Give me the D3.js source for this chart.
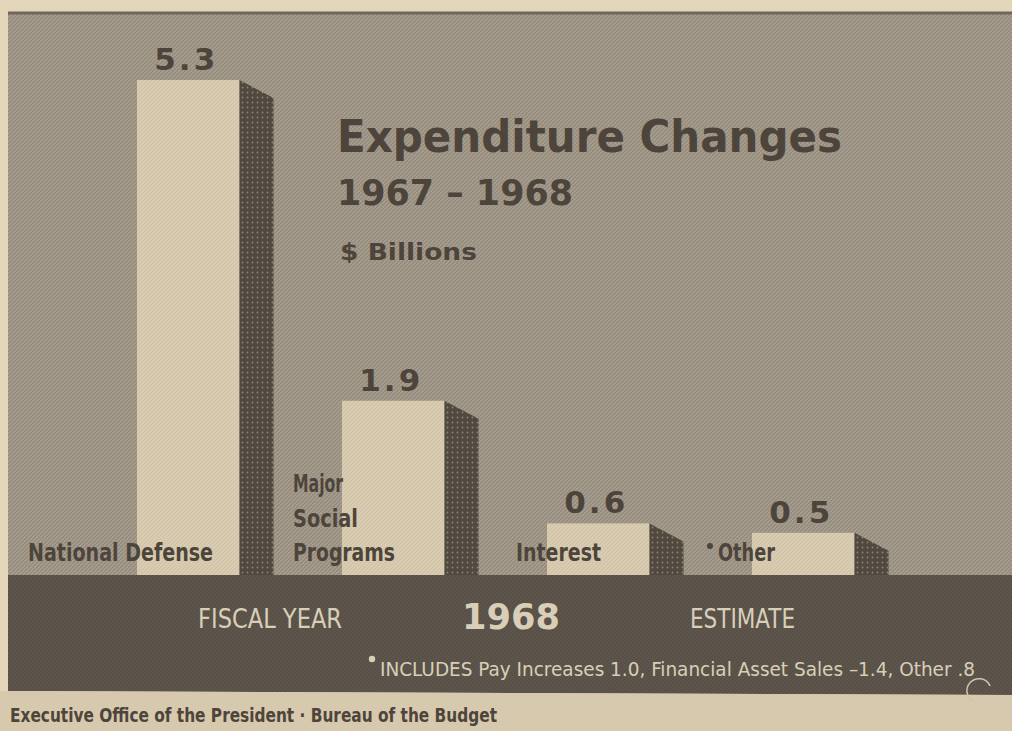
<!DOCTYPE html>
<html>
<head>
<meta charset="utf-8">
<script src="https://cdn.jsdelivr.net/npm/d3@7"></script>
<style>
  html, body { margin: 0; padding: 0; background: #e3d6bb; }
  svg { display: block; }
</style>
</head>
<body>
<svg id="chart" width="1012" height="731"></svg>
<script>
// ---- data ----
const categories = ["National Defense", "Major Social Programs", "Interest", "Other"];
const values = [5.3, 1.9, 0.6, 0.5];
const valueLabels = ["5.3", "1.9", "0.6", "0.5"];
const categoryLabelLines = [["National Defense"], ["Major", "Social", "Programs"], ["Interest"], ["Other"]];
const footnoteMarks = [false, false, false, true];
const titleLines = ["Expenditure Changes", "1967 \u2013 1968", "$ Billions"];
const bandTexts = ["FISCAL YEAR", "1968", "ESTIMATE"];
const footnoteText = "INCLUDES Pay Increases 1.0, Financial Asset Sales \u20131.4, Other .8";
const sourceText = "Executive Office of the President  \u00b7  Bureau of the Budget";

// ---- layout ----
const W = 1012, H = 731;
const baseY = 577;
const sideW = 34, sideDrop = 18;
const labelOffsets = [-109, -49, -31, -34];
const labelWidths = [[185], [50, 65, 102], [85], [57]];

const svg = d3.select("#chart");
const defs = svg.append("defs");

// newsprint texture for background
const tex = defs.append("pattern").attr("id", "tex").attr("patternUnits", "userSpaceOnUse")
  .attr("width", 4).attr("height", 4);
tex.append("rect").attr("width", 4).attr("height", 4).attr("fill", "#a69c8d");
tex.append("path").attr("d", "M0,4 L4,0").attr("stroke", "#8f8678").attr("stroke-width", 1.1);

// crosshatch for side faces
const hatch = defs.append("pattern").attr("id", "hatch").attr("patternUnits", "userSpaceOnUse")
  .attr("width", 5).attr("height", 5);
hatch.append("rect").attr("width", 5).attr("height", 5).attr("fill", "#514940");
hatch.append("circle").attr("cx", 2.5).attr("cy", 2.5).attr("r", 0.9).attr("fill", "#8d8373");

// dark band texture
const bandTex = defs.append("pattern").attr("id", "bandTex").attr("patternUnits", "userSpaceOnUse")
  .attr("width", 4).attr("height", 4);
bandTex.append("rect").attr("width", 4).attr("height", 4).attr("fill", "#5d554b");
bandTex.append("path").attr("d", "M0,4 L4,0").attr("stroke", "#544d44").attr("stroke-width", 1);

// front face texture
const frontTex = defs.append("pattern").attr("id", "frontTex").attr("patternUnits", "userSpaceOnUse")
  .attr("width", 4).attr("height", 4);
frontTex.append("rect").attr("width", 4).attr("height", 4).attr("fill", "#d8cbb0");
frontTex.append("path").attr("d", "M0,4 L4,0").attr("stroke", "#cdbfa4").attr("stroke-width", 0.9);

// outer paper
svg.append("rect").attr("width", W).attr("height", H).attr("fill", "#e3d6bb");
// panel
svg.append("rect").attr("x", 8).attr("y", 12).attr("width", W - 8).attr("height", 690 - 12).attr("fill", "url(#tex)");
svg.append("line").attr("x1", 8).attr("x2", W).attr("y1", 13).attr("y2", 13)
  .attr("stroke", "#6f675b").attr("stroke-width", 3);

// scales
const x = d3.scaleBand().domain(categories).range([75.5, 916]).paddingInner(0.5).paddingOuter(0.3);
const y = d3.scaleLinear().domain([0, 5.3]).range([580, 80]);

const dark = "#4d453b";
const narrow = "'Liberation Sans Narrow','DejaVu Sans Condensed','DejaVu Sans',sans-serif";

// bars
const bars = svg.append("g").selectAll("g").data(categories).join("g");
bars.append("rect")
  .attr("x", d => x(d)).attr("y", (d, i) => y(values[i]))
  .attr("width", x.bandwidth()).attr("height", (d, i) => baseY + 10 - y(values[i]))
  .attr("fill", "url(#frontTex)");
bars.append("path")
  .attr("d", (d, i) => {
    const x1 = x(d) + x.bandwidth(), yt = y(values[i]);
    return `M${x1},${yt} L${x1 + sideW},${yt + sideDrop} L${x1 + sideW},${baseY + 10} L${x1},${baseY + 10} Z`;
  })
  .attr("fill", "url(#hatch)");

// value labels
bars.append("text")
  .attr("x", d => x(d) + x.bandwidth() / 2 - 2)
  .attr("y", (d, i) => y(values[i]) - 10)
  .attr("text-anchor", "middle")
  .attr("font-family", "'DejaVu Sans',sans-serif").attr("font-weight", "bold")
  .attr("font-size", 31).attr("fill", dark)
  .attr("letter-spacing", 3)
  .text((d, i) => valueLabels[i]);

// category labels
bars.each(function (d, i) {
  const g = d3.select(this);
  const lines = categoryLabelLines[i];
  const lx = x(d) + labelOffsets[i];
  lines.forEach((ln, j) => {
    g.append("text")
      .attr("x", lx).attr("y", 561 - (lines.length - 1 - j) * 34.5)
      .attr("font-family", narrow).attr("font-weight", "bold")
      .attr("font-size", 25).attr("fill", dark)
      .attr("textLength", labelWidths[i][j]).attr("lengthAdjust", "spacingAndGlyphs")
      .text(ln);
  });
  if (footnoteMarks[i]) {
    g.append("circle").attr("cx", lx - 8).attr("cy", 546).attr("r", 3).attr("fill", dark);
  }
});

// title
svg.append("text").attr("x", 337).attr("y", 152)
  .attr("font-family", "'DejaVu Sans',sans-serif").attr("font-weight", "bold")
  .attr("font-size", 45).attr("fill", dark)
  .attr("textLength", 505).attr("lengthAdjust", "spacingAndGlyphs").text(titleLines[0]);
svg.append("text").attr("x", 337).attr("y", 205)
  .attr("font-family", "'DejaVu Sans',sans-serif").attr("font-weight", "bold")
  .attr("font-size", 35).attr("fill", dark)
  .attr("textLength", 236).attr("lengthAdjust", "spacingAndGlyphs").text(titleLines[1]);
svg.append("text").attr("x", 340).attr("y", 260)
  .attr("font-family", "'DejaVu Sans',sans-serif").attr("font-weight", "bold")
  .attr("font-size", 23).attr("fill", dark)
  .attr("textLength", 137).attr("lengthAdjust", "spacingAndGlyphs").text(titleLines[2]);

// dark band
svg.append("path")
  .attr("d", `M8,575 L${W},575 L${W},695 L8,691 Z`)
  .attr("fill", "url(#bandTex)");

const light = "#d9cfb8";
svg.append("text").attr("x", 198).attr("y", 628)
  .attr("font-family", narrow).attr("font-size", 27).attr("fill", light)
  .attr("textLength", 144).attr("lengthAdjust", "spacingAndGlyphs").text(bandTexts[0]);
svg.append("text").attr("x", 462).attr("y", 629)
  .attr("font-family", "'DejaVu Sans',sans-serif").attr("font-weight", "bold").attr("font-size", 36).attr("fill", light)
  .attr("textLength", 98).attr("lengthAdjust", "spacingAndGlyphs").text(bandTexts[1]);
svg.append("text").attr("x", 690).attr("y", 628)
  .attr("font-family", narrow).attr("font-size", 27).attr("fill", light)
  .attr("textLength", 105).attr("lengthAdjust", "spacingAndGlyphs").text(bandTexts[2]);

svg.append("circle").attr("cx", 372).attr("cy", 659).attr("r", 3.2).attr("fill", light);
svg.append("text").attr("x", 380).attr("y", 676)
  .attr("font-family", narrow).attr("font-size", 20).attr("fill", light)
  .attr("textLength", 595).attr("lengthAdjust", "spacingAndGlyphs").text(footnoteText);

// bottom strip
svg.append("path").attr("d", `M0,691 L${W},695 L${W},${H} L0,${H} Z`).attr("fill", "#d7c9ad");
svg.append("text").attr("x", 10).attr("y", 722)
  .attr("font-family", narrow).attr("font-weight", "bold").attr("font-size", 19).attr("fill", dark)
  .attr("textLength", 487).attr("lengthAdjust", "spacingAndGlyphs").text(sourceText);
// small copyright mark
svg.append("path").attr("d", "M990,686 A12,12 0 1,0 975,702")
  .attr("fill", "none").attr("stroke", "#cfc4ac").attr("stroke-width", 1.5);
</script>
</body>
</html>
